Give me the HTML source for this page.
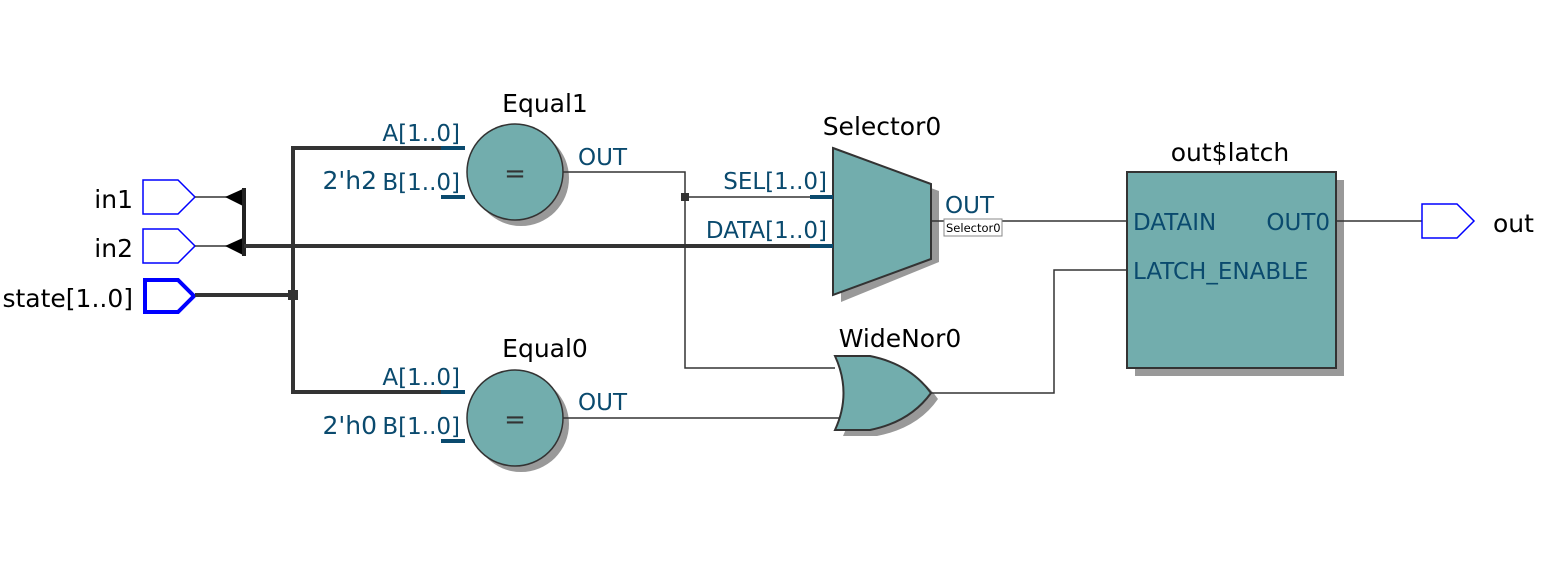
<!DOCTYPE html>
<html><head><meta charset="utf-8"><style>
html,body{margin:0;padding:0;background:#fff;}
svg{display:block;}
text{font-family:"DejaVu Sans","Liberation Sans",sans-serif;}
.t{fill:#000;font-size:25px;}
.p{fill:#0a4a6e;font-size:23px;}
</style></head><body>
<svg width="1558" height="574" viewBox="0 0 1558 574" xmlns="http://www.w3.org/2000/svg">
<polygon points="143,180 178,180 195,197 178,214 143,214" fill="#fff" stroke="#0000ff" stroke-width="1.5"/>
<polygon points="143,229 178,229 195,246 178,263 143,263" fill="#fff" stroke="#0000ff" stroke-width="1.5"/>
<polygon points="145,280 178,280 194,296 178,312 145,312" fill="#fff" stroke="#0000ff" stroke-width="4"/>
<text class="t" x="133" y="208" text-anchor="end">in1</text>
<text class="t" x="133" y="257" text-anchor="end">in2</text>
<text class="t" x="133" y="307" text-anchor="end">state[1..0]</text>
<line x1="195" y1="197" x2="230" y2="197" stroke="#333" stroke-width="1.5"/>
<line x1="195" y1="246" x2="230" y2="246" stroke="#333" stroke-width="1.5"/>
<polygon points="225,197 245,188 245,207" fill="#000"/>
<polygon points="225,246 245,237 245,256" fill="#000"/>
<line x1="244" y1="188" x2="244" y2="256" stroke="#222" stroke-width="4"/>
<line x1="244" y1="246" x2="835" y2="246" stroke="#333" stroke-width="4"/>
<line x1="195" y1="295" x2="293" y2="295" stroke="#333" stroke-width="4"/>
<polyline points="460,148 293,148 293,392 460,392" fill="none" stroke="#333" stroke-width="4"/>
<rect x="288" y="290" width="10" height="10" fill="#333"/>
<circle cx="521" cy="178" r="48" fill="#999"/>
<circle cx="515" cy="172" r="48" fill="#72adad" stroke="#333" stroke-width="1.5"/>
<text x="515" y="182" font-size="26" text-anchor="middle" fill="#333">=</text>
<line x1="441" y1="148" x2="465" y2="148" stroke="#0a4a6e" stroke-width="4"/>
<line x1="441" y1="197" x2="465" y2="197" stroke="#0a4a6e" stroke-width="4"/>
<text class="p" x="460" y="141" text-anchor="end">A[1..0]</text>
<text class="p" x="460" y="190" text-anchor="end">B[1..0]</text>
<text class="p" x="377" y="189" text-anchor="end" style="font-size:25px">2'h2</text>
<text class="t" x="545" y="112" text-anchor="middle">Equal1</text>
<text class="p" x="578" y="165">OUT</text>
<polyline points="563,172 685,172 685,368 835,368" fill="none" stroke="#333" stroke-width="1.5"/>
<line x1="685" y1="197" x2="833" y2="197" stroke="#333" stroke-width="1.5"/>
<rect x="681" y="193" width="8" height="8" fill="#333"/>
<circle cx="521" cy="424" r="48" fill="#999"/>
<circle cx="515" cy="418" r="48" fill="#72adad" stroke="#333" stroke-width="1.5"/>
<text x="515" y="428" font-size="26" text-anchor="middle" fill="#333">=</text>
<line x1="441" y1="392" x2="465" y2="392" stroke="#0a4a6e" stroke-width="4"/>
<line x1="441" y1="441" x2="465" y2="441" stroke="#0a4a6e" stroke-width="4"/>
<text class="p" x="460" y="385" text-anchor="end">A[1..0]</text>
<text class="p" x="460" y="434" text-anchor="end">B[1..0]</text>
<text class="p" x="377" y="434" text-anchor="end" style="font-size:25px">2'h0</text>
<text class="t" x="545" y="357" text-anchor="middle">Equal0</text>
<text class="p" x="578" y="410">OUT</text>
<line x1="563" y1="418" x2="845" y2="418" stroke="#333" stroke-width="1.5"/>
<polygon points="841,155 939,191 939,262 841,302" fill="#999"/>
<polygon points="833,148 931,184 931,259 833,295" fill="#72adad" stroke="#333" stroke-width="2"/>
<line x1="810" y1="197" x2="833" y2="197" stroke="#0a4a6e" stroke-width="4"/>
<line x1="810" y1="246" x2="833" y2="246" stroke="#0a4a6e" stroke-width="4"/>
<text class="p" x="827" y="189" text-anchor="end">SEL[1..0]</text>
<text class="p" x="827" y="238" text-anchor="end">DATA[1..0]</text>
<text class="t" x="882" y="135" text-anchor="middle">Selector0</text>
<text class="p" x="945" y="213">OUT</text>
<line x1="931" y1="221" x2="1127" y2="221" stroke="#333" stroke-width="1.5"/>
<rect x="944" y="219" width="58" height="17" fill="#fff" stroke="#888" stroke-width="1"/>
<text x="946" y="232" font-size="11.5" fill="#000">Selector0</text>
<path d="M843,362 L877,362 Q918,370 938,399 Q918,428 877,436 L843,436 Q860,399 843,362 Z" fill="#999"/>
<path d="M835,356 L870,356 Q910,364 931,393 Q910,422 870,430 L835,430 Q852,393 835,356 Z" fill="#72adad" stroke="#333" stroke-width="2"/>
<text class="t" x="900" y="347" text-anchor="middle">WideNor0</text>
<polyline points="931,393 1054,393 1054,270 1127,270" fill="none" stroke="#333" stroke-width="1.5"/>
<rect x="1135" y="180" width="209" height="196" fill="#999"/>
<rect x="1127" y="172" width="209" height="196" fill="#72adad" stroke="#333" stroke-width="2"/>
<text class="t" x="1230" y="161" text-anchor="middle">out$latch</text>
<text class="p" x="1133" y="230">DATAIN</text>
<text class="p" x="1330" y="230" text-anchor="end">OUT0</text>
<text class="p" x="1133" y="279">LATCH_ENABLE</text>
<line x1="1336" y1="221" x2="1422" y2="221" stroke="#333" stroke-width="1.5"/>
<polygon points="1422,204 1457,204 1474,221 1457,238 1422,238" fill="#fff" stroke="#0000ff" stroke-width="1.5"/>
<text class="t" x="1493" y="232">out</text>
</svg>
</body></html>
